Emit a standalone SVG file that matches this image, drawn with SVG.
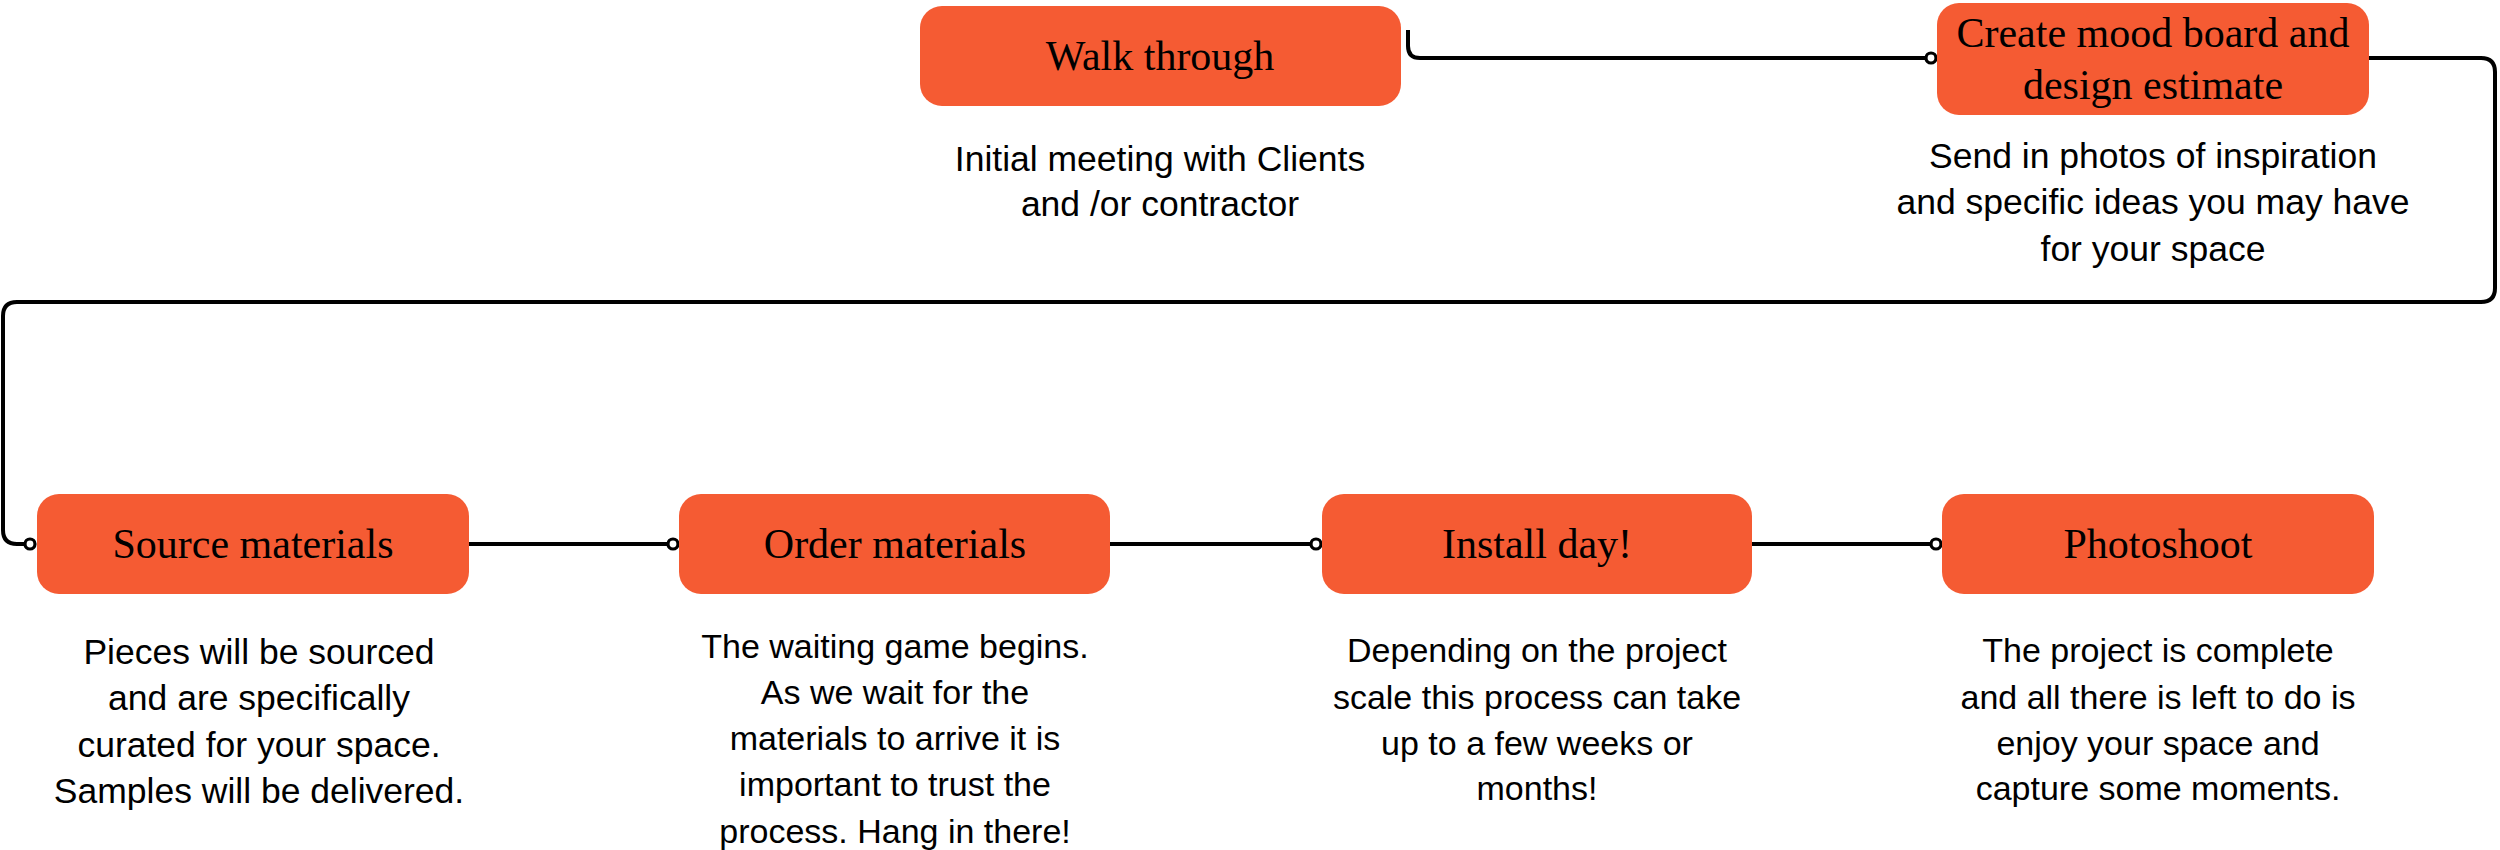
<svg xmlns="http://www.w3.org/2000/svg" width="2500" height="850" viewBox="0 0 2500 850">
<style>
.box{fill:#F55B33;}
.title{font-family:"Liberation Serif",serif;font-size:42px;fill:#000;text-anchor:middle;}
.desc{font-family:"Liberation Sans",sans-serif;font-size:34px;fill:#000;text-anchor:middle;}
.wide{font-size:35.5px;}
.conn{fill:none;stroke:#000;stroke-width:4;stroke-linejoin:round;}
</style>
<defs>
<marker id="dot" viewBox="0 0 16 16" refX="8" refY="8" markerWidth="16" markerHeight="16" markerUnits="userSpaceOnUse">
<circle cx="8" cy="8" r="5" fill="#fff" stroke="#000" stroke-width="3.2"/>
</marker>
</defs>
<rect width="2500" height="850" fill="#fff"/>
<g id="connectors">
<path class="conn" d="M1408,30 V46 Q1408,58 1420,58 H1931" marker-end="url(#dot)"/>
<path class="conn" d="M2369,58 H2481 Q2495,58 2495,72 V288 Q2495,302 2481,302 H17 Q3,302 3,316 V530 Q3,544 17,544 H30" marker-end="url(#dot)"/>
<path class="conn" d="M469,544 H673" marker-end="url(#dot)"/>
<path class="conn" d="M1110,544 H1316" marker-end="url(#dot)"/>
<path class="conn" d="M1752,544 H1936" marker-end="url(#dot)"/>
</g>
<g id="walk-through">
<rect class="box" x="920" y="6" width="481" height="100" rx="22"/>
<text class="title" x="1160" y="70">Walk through</text>
<text class="desc wide" x="1160" y="171">Initial meeting with Clients</text>
<text class="desc wide" x="1160" y="216">and /or contractor</text>
</g>
<g id="mood-board">
<rect class="box" x="1937" y="3" width="432" height="112" rx="22"/>
<text class="title" x="2153" y="47">Create mood board and</text>
<text class="title" x="2153" y="99">design estimate</text>
<text class="desc wide" x="2153" y="168">Send in photos of inspiration</text>
<text class="desc wide" x="2153" y="214">and specific ideas you may have</text>
<text class="desc wide" x="2153" y="261">for your space</text>
</g>
<g id="source-materials">
<rect class="box" x="37" y="494" width="432" height="100" rx="22"/>
<text class="title" x="253" y="558">Source materials</text>
<text class="desc wide" x="259" y="664">Pieces will be sourced</text>
<text class="desc wide" x="259" y="710">and are specifically</text>
<text class="desc wide" x="259" y="757">curated for your space.</text>
<text class="desc wide" x="259" y="803">Samples will be delivered.</text>
</g>
<g id="order-materials">
<rect class="box" x="679" y="494" width="431" height="100" rx="22"/>
<text class="title" x="895" y="558">Order materials</text>
<text class="desc" x="895" y="658">The waiting game begins.</text>
<text class="desc" x="895" y="704">As we wait for the</text>
<text class="desc" x="895" y="750">materials to arrive it is</text>
<text class="desc" x="895" y="796">important to trust the</text>
<text class="desc" x="895" y="843">process. Hang in there!</text>
</g>
<g id="install-day">
<rect class="box" x="1322" y="494" width="430" height="100" rx="22"/>
<text class="title" x="1537" y="558">Install day!</text>
<text class="desc" x="1537" y="662">Depending on the project</text>
<text class="desc" x="1537" y="709">scale this process can take</text>
<text class="desc" x="1537" y="755">up to a few weeks or</text>
<text class="desc" x="1537" y="800">months!</text>
</g>
<g id="photoshoot">
<rect class="box" x="1942" y="494" width="432" height="100" rx="22"/>
<text class="title" x="2158" y="558">Photoshoot</text>
<text class="desc" x="2158" y="662">The project is complete</text>
<text class="desc" x="2158" y="709">and all there is left to do is</text>
<text class="desc" x="2158" y="755">enjoy your space and</text>
<text class="desc" x="2158" y="800">capture some moments.</text>
</g>
</svg>
